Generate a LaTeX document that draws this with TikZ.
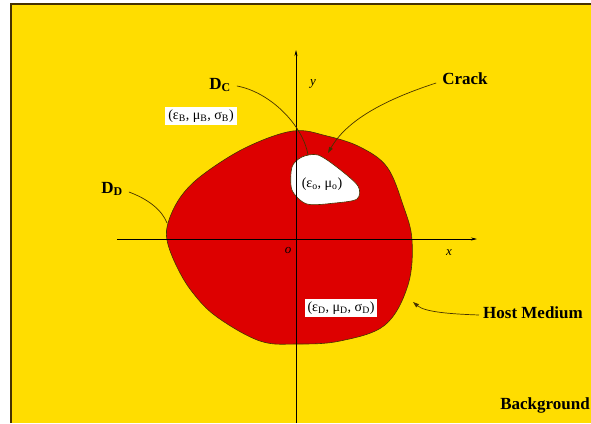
\documentclass[tikz,border=0pt]{standalone}
\usepackage{fontspec}
\setmainfont{Liberation Serif}
\usetikzlibrary{positioning,arrows.meta}
\definecolor{bgyellow}{RGB}{255,221,0}
\definecolor{hostred}{RGB}{221,0,0}
\definecolor{rimdark}{RGB}{70,50,0}

\begin{document}
\begin{tikzpicture}[x=1pt,y=-1pt,
    region/.style={draw=rimdark,line width=0.6pt},
    lbl/.style={font=\bfseries\fontsize{17}{17}\selectfont,inner sep=0pt},
    param/.style={fill=white,font=\fontsize{14}{14}\selectfont,inner sep=3pt},
    axislbl/.style={font=\itshape\fontsize{13}{13}\selectfont,inner sep=0pt},
    leader/.style={draw=rimdark,line width=0.7pt},
    axis/.style={draw=black,line width=0.6pt,-{Stealth[length=6pt,width=3pt]}}]
  \useasboundingbox (0,0) rectangle (591,423);

  % Background
  \fill[bgyellow] (11,4) rectangle (591,423);
  \draw[rimdark,line width=1.2pt] (11,423) -- (11,4) -- (591,4);

  % Host medium
  \draw[region,fill=hostred] plot[smooth cycle,tension=0.6] coordinates {
    (293,131) (327,136) (360,147) (387,167) (403,205) (412,240)
    (408,285) (385,325) (340,341) (297,344) (260,341) (217,317)
    (193,293) (177,267) (167,240) (169,220) (182,195) (205,173) (247,147)};

  % Crack
  \draw[region,fill=white] plot[smooth cycle,tension=0.5] coordinates {
    (292,167) (302,157) (318,155) (338,168) (358,186) (357,199)
    (335,203) (307,204) (292,190)};

  % Axes
  \draw[axis] (117,239) -- (477,239);
  \draw[axis] (296,423) -- (296,50);
  \node[axislbl] (xl) at (449,253) {x};
  \node[axislbl] (yl) at (313,84) {y};
  \node[axislbl] (orig) at (288,250) {o};

  % Parameters
  \node[param] (pB) at (201,116) {(ε\textsubscript{B}, μ\textsubscript{B}, σ\textsubscript{B})};
  \node[param] (pD) at (341,308) {(ε\textsubscript{D}, μ\textsubscript{D}, σ\textsubscript{D})};
  \node[font=\fontsize{14}{14}\selectfont,inner sep=1pt] (pO) at (322,184) {(ε\textsubscript{o}, μ\textsubscript{o})};

  % Labels
  \node[lbl] (dc) at (220,85) {D\textsubscript{C}};
  \node[lbl] (dd) at (112,189) {D\textsubscript{D}};
  \node[lbl] (crack) at (465,79) {Crack};
  \node[lbl] (host) at (533,313) {Host Medium};
  \node[lbl] (bg) at (545,405) {Background};

  \coordinate (dcEnd) at (308,155);
  \coordinate (ddEnd) at (167,223);
  \coordinate (crEnd) at (328,153);
  \coordinate (hmEnd) at (413,302);

  % Leaders
  \draw[leader] (dc.east) ++(6,1) .. controls (270,92) and (303,125) .. (dcEnd);
  \draw[leader] (dd.east) ++(6,3) .. controls (148,199) and (162,210) .. (ddEnd);
  \draw[leader,-{Triangle[length=6pt,width=4pt]}] (crack.west) ++(-6,4)
    .. controls (390,98) and (348,118) .. (crEnd);
  \draw[leader,-{Triangle[length=6pt,width=4pt]}] (host.west) ++(-4,2)
    .. controls (450,314) and (425,312) .. (hmEnd);
\end{tikzpicture}
\end{document}
